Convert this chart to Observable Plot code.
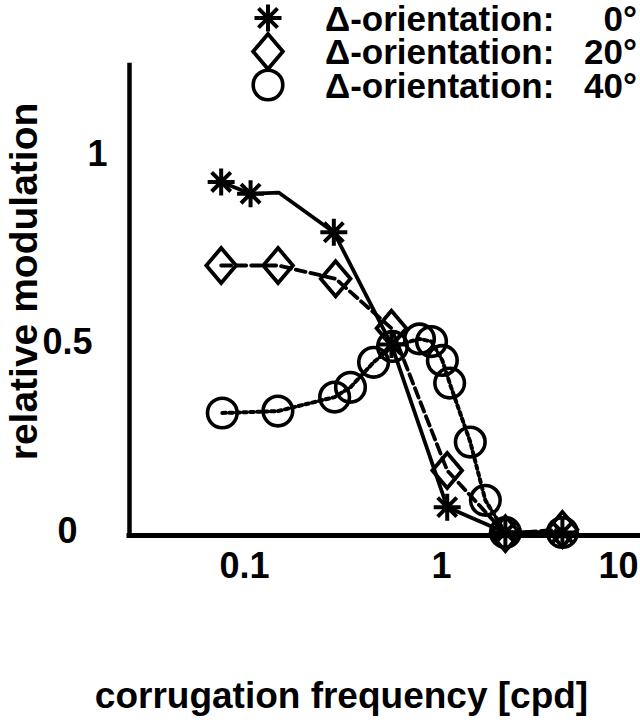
<!DOCTYPE html>
<html>
<head>
<meta charset="utf-8">
<script src="https://cdn.jsdelivr.net/npm/d3@7"></script>
<script src="https://cdn.jsdelivr.net/npm/@observablehq/plot@0.6"></script>
<style>
  body { margin: 0; background: #fff; }
  #wrap { position: relative; width: 640px; height: 720px; font-family: "Liberation Sans", Arial, sans-serif; }
  #wrap svg { position: absolute; left: 0; top: 0; }
</style>
</head>
<body>
<div id="wrap"></div>
<script>
// ---- data ----
// Δ-orientation 0° (markers)
const freq0 = [0.0761, 0.1073, 0.284, 0.557, 1.069, 2.11, 4.11];
const mod0  = [0.935, 0.904, 0.802, 0.505, 0.075, 0.008, 0.008];
// Δ-orientation 0° (connecting curve vertices)
const lineFreq0 = [0.0761, 0.1073, 0.149, 0.284, 0.557, 1.069, 2.11, 4.11];
const lineMod0  = [0.935, 0.904, 0.907, 0.802, 0.505, 0.075, 0.008, 0.008];
// Δ-orientation 20°
const freq20 = [0.0761, 0.148, 0.29, 0.557, 1.069, 2.11, 4.11];
const mod20  = [0.714, 0.714, 0.679, 0.548, 0.172, 0.005, 0.016];
// Δ-orientation 40°
const freq40 = [0.0771, 0.1477, 0.2867, 0.345, 0.452, 0.564, 0.773, 0.89, 1.01, 1.10, 1.40, 1.67, 2.11, 4.11];
const mod40  = [0.324, 0.329, 0.366, 0.392, 0.458, 0.500, 0.520, 0.513, 0.463, 0.403, 0.247, 0.093, 0.008, 0.008];

const xTicks = [0.1, 1];
const xTicksEdge = [10];
const yTicksLow = [0, 0.5];
const yTicksTop = [1];
const xDomain = [0.02606, 10.24];
const yDomain = [0, 1.243];

const xTitle = "corrugation frequency [cpd]";
const yTitle = "relative modulation";
const legendPrefix = "Δ-orientation:";
const legendAngles = ["0°", "20°", "40°"];

// ---- tables ----
const toRows = (xs, ys) => xs.map((f, i) => ({f, m: ys[i]}));
const pts0 = toRows(freq0, mod0);
const line0 = toRows(lineFreq0, lineMod0);
const pts20 = toRows(freq20, mod20);
const pts40 = toRows(freq40, mod40);

// ---- custom symbols ----
const star8 = {
  draw(ctx, size) {
    const r = Math.sqrt(size / Math.PI);
    for (let k = 0; k < 4; k++) {
      const a = k * Math.PI / 4, c = Math.cos(a) * r, s = Math.sin(a) * r;
      ctx.moveTo(-c, -s); ctx.lineTo(c, s);
    }
  }
};
const diamondTall = {
  draw(ctx, size) {
    const r = Math.sqrt(size / Math.PI), w = 0.85 * r;
    ctx.moveTo(0, -r); ctx.lineTo(w, 0); ctx.lineTo(0, r); ctx.lineTo(-w, 0); ctx.closePath();
  }
};

const FONT = {fontSize: 36, fontWeight: "bold"};
const fmt = d => `${d}`;

const chart = Plot.plot({
  width: 640,
  height: 720,
  marginLeft: 129,
  marginRight: 0,
  marginTop: 65,
  marginBottom: 185,
  style: {fontFamily: '"Liberation Sans", Arial, sans-serif', background: "white", color: "black", overflow: "visible"},
  x: {type: "log", domain: xDomain},
  y: {domain: yDomain},
  marks: [
    Plot.ruleX([xDomain[0]], {stroke: "black", strokeWidth: 4.5, strokeLinecap: "square"}),
    Plot.ruleY([0], {stroke: "black", strokeWidth: 5, strokeLinecap: "square"}),
    Plot.line(pts40, {x: "f", y: "m", stroke: "black", strokeWidth: 4, strokeDasharray: "3.5,3.5"}),
    Plot.line(pts20, {x: "f", y: "m", stroke: "black", strokeWidth: 3.8, strokeDasharray: "10,5"}),
    Plot.line(line0, {x: "f", y: "m", stroke: "black", strokeWidth: 3.8, strokeLinejoin: "round"}),
    Plot.dot(pts40, {x: "f", y: "m", r: 14.8, stroke: "black", fill: "none", strokeWidth: 3.6}),
    Plot.dot(pts20, {x: "f", y: "m", r: 17.5, symbol: diamondTall, stroke: "black", fill: "none", strokeWidth: 3.8}),
    Plot.dot(pts0, {x: "f", y: "m", r: 13.5, symbol: star8, stroke: "black", fill: "none", strokeWidth: 4}),
    Plot.axisX(xTicks, {tickSize: 0, tickPadding: 17, tickFormat: fmt, label: null, ...FONT}),
    Plot.axisX(xTicksEdge, {tickSize: 0, tickPadding: 17, tickFormat: fmt, textAnchor: "end", label: null, ...FONT}),
    Plot.axisY(yTicksLow, {tickSize: 0, tickPadding: 62, tickFormat: fmt, textAnchor: "middle", dy: -4, label: null, ...FONT}),
    Plot.axisY(yTicksTop, {tickSize: 0, tickPadding: 32, tickFormat: fmt, textAnchor: "middle", dy: -3, label: null, ...FONT}),
    Plot.text([yTitle], {text: d => d, frameAnchor: "left", rotate: -90, dx: -104.5, dy: -19,
      textAnchor: "middle", lineAnchor: "middle", fontSize: 39, fontWeight: "bold"}),
    Plot.text([xTitle], {text: d => d, frameAnchor: "bottom", dx: -43.5, dy: 160.5,
      textAnchor: "middle", lineAnchor: "middle", fontSize: 37, fontWeight: "bold"})
  ]
});

const wrap = document.getElementById("wrap");
wrap.appendChild(chart);

// ---- legend (overlay at the top right) ----
const legendSymbols = [star8, diamondTall, d3.symbolCircle];
const legendR = [13.5, 17.5, 14.8];
const legendSW = [4, 3.8, 3.6];
const leg = d3.create("svg")
  .attr("width", 640).attr("height", 110)
  .style("font-family", '"Liberation Sans", Arial, sans-serif')
  .style("pointer-events", "none");
legendAngles.forEach((ang, i) => {
  const yc = 18 + i * 33.5;
  leg.append("path")
    .attr("transform", `translate(268,${yc})`)
    .attr("d", d3.symbol(legendSymbols[i], legendR[i] * legendR[i] * Math.PI)())
    .attr("fill", "none")
    .attr("stroke", "black")
    .attr("stroke-width", legendSW[i]);
  leg.append("text")
    .attr("x", 325).attr("y", yc).attr("dy", "0.36em")
    .attr("font-size", 35).attr("font-weight", "bold")
    .text(legendPrefix);
  leg.append("text")
    .attr("x", 637).attr("y", yc).attr("dy", "0.36em")
    .attr("text-anchor", "end")
    .attr("font-size", 35).attr("font-weight", "bold")
    .text(ang);
});
wrap.appendChild(leg.node());
</script>
</body>
</html>
